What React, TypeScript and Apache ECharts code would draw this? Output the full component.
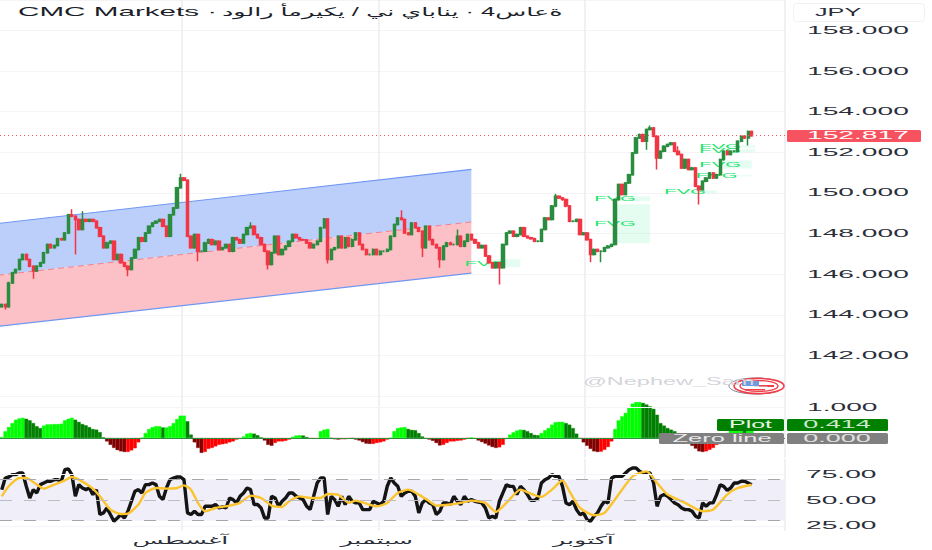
import React, { useEffect, useRef } from "react";
import * as echarts from "echarts";

const titleLatin = "CMC Markets ·";
const titleArabic = "\u202Dدولار أمريكي / ين ياباني · 4ساعة";
const currency = "JPY";
const watermark = "@Nephew_Sam_";
const priceTicks = [158, 156, 154, 152, 150, 148, 146, 144, 142];
const oscTicks = [1];
const rsiTicks = [75, 50, 25];
const monthNames = ["آغسطس", "سبتمبر", "آكتوبر"];
const monthIndex = [51, 107, 166];
const gridIndex = [52, 108, 167];
const slotCount = 224;
const lastPrice = 152.817;
const plotValue = 0.414;

const closes = [
  144.5, 144.4, 145.57, 146.07, 146.23, 146.72, 146.97, 146.72, 146.39, 146.15, 146.39, 146.56, 147.05, 147.46, 147.3, 147.41,
  147.74, 147.7, 148.03, 148.93, 148.85, 148.69, 148.2, 148.69, 148.61, 148.69, 148.61, 148.28, 147.87, 147.3, 147.54, 147.62,
  146.72, 146.97, 146.56, 146.39, 146.23, 146.8, 147.21, 147.79, 147.62, 148.03, 148.36, 148.52, 148.61, 148.69, 148.36, 147.87,
  148.93, 149.26, 150.25, 150.74, 150.62, 147.87, 147.3, 147.95, 147.13, 147.13, 147.54, 147.7, 147.46, 147.62, 147.21, 147.3,
  147.46, 147.13, 147.79, 147.7, 147.54, 147.95, 148.28, 148.36, 147.95, 147.79, 147.46, 147.13, 146.47, 147.05, 147.87, 146.97,
  147.21, 147.38, 147.62, 147.95, 147.79, 147.7, 147.68, 147.54, 147.3, 147.46, 147.62, 148.28, 148.72, 146.72, 147.21, 147.3,
  147.87, 147.3, 147.79, 147.38, 147.7, 148.03, 147.46, 147.21, 146.97, 146.97, 147.21, 146.97, 147.13, 147.13, 147.21, 147.87,
  148.44, 148.77, 148.69, 148.03, 147.95, 148.52, 148.28, 148.11, 147.3, 148.36, 147.7, 147.46, 147.3, 146.72, 147.38, 147.54,
  147.46, 147.46, 147.87, 147.38, 147.62, 147.95, 147.7, 147.54, 147.3, 147.41, 146.89, 146.56, 146.31, 146.56, 146.31, 147.46,
  148.03, 148.11, 147.87, 147.95, 148.28, 147.87, 147.79, 147.74, 147.62, 147.62, 148.2, 148.77, 148.69, 149.35, 149.84, 149.75,
  149.67, 149.35, 148.61, 148.61, 148.69, 147.95, 148.03, 147.7, 146.97, 147.21, 147.13, 147.13, 147.3, 147.38, 147.46, 149.67,
  150.41, 149.92, 150.49, 150.9, 151.97, 152.7, 152.87, 152.54, 153.12, 153.2, 152.79, 151.72, 152.05, 152.3, 152.38, 152.46,
  152.05, 151.89, 151.23, 151.64, 151.15, 151.23, 150.33, 150.16, 150.57, 150.74, 150.98, 150.74, 150.9, 151.64, 152.05, 151.89,
  152.05, 152.05, 152.54, 152.79, 152.71, 153.03, 152.817,
];
const bigHighs: [number, number][] = [[20, 149.2], [23, 149.1], [51, 150.95], [71, 148.55], [114, 149.15], [130, 148.2], [158, 149.96], [185, 153.32], [193, 152.3]];
const bigLows: [number, number][] = [[1, 144.26], [9, 145.77], [21, 146.97], [36, 145.9], [56, 146.64], [76, 146.23], [93, 146.52], [120, 146.85], [125, 146.31], [142, 145.49], [168, 146.59], [171, 146.59], [184, 152.13], [187, 151.15], [199, 149.43], [213, 152.33]];

const oscValues = [
  0.03, 0.22, 0.35, 0.48, 0.59, 0.63, 0.65, 0.62, 0.57, 0.48, 0.38, 0.32, 0.4, 0.44, 0.44, 0.45, 0.45, 0.46, 0.57, 0.62, 0.65, 0.59, 0.52, 0.45,
  0.41, 0.35, 0.29, 0.27, 0.19, 0.02, -0.11, -0.22, -0.32, -0.39, -0.43, -0.45, -0.45, -0.4, -0.33, -0.14, 0.01, 0.16, 0.29, 0.35, 0.38, 0.38, 0.34, 0.34,
  0.38, 0.48, 0.61, 0.72, 0.72, 0.54, 0.11, -0.14, -0.32, -0.48, -0.45, -0.35, -0.32, -0.27, -0.22, -0.2, -0.18, -0.14, -0.11, -0.05, -0.02, 0.05, 0.14, 0.16,
  0.14, 0.09, 0.02, -0.08, -0.22, -0.25, -0.16, -0.11, -0.11, -0.09, -0.05, 0.04, 0.08, 0.09, 0.08, 0.03, -0.02, -0.02, -0.02, 0.22, 0.27, 0.29, -0.01, -0.04,
  -0.05, -0.04, -0.04, -0.02, -0.01, -0.05, -0.08, -0.13, -0.18, -0.19, -0.19, -0.16, -0.14, -0.11, -0.05, 0.01, 0.22, 0.32, 0.34, 0.35, 0.29, 0.26, 0.25, 0.16,
  0.05, -0.02, -0.05, -0.09, -0.16, -0.24, -0.22, -0.16, -0.11, -0.11, -0.09, -0.08, -0.05, -0.01, 0.02, -0.02, -0.08, -0.13, -0.18, -0.24, -0.29, -0.32, -0.3, -0.22,
  -0.03, 0.11, 0.18, 0.24, 0.27, 0.26, 0.22, 0.16, 0.1, 0.09, 0.16, 0.25, 0.32, 0.43, 0.51, 0.52, 0.52, 0.48, 0.43, 0.32, 0.14, -0.02, -0.14, -0.25,
  -0.35, -0.43, -0.45, -0.44, -0.38, -0.29, -0.11, 0.29, 0.57, 0.7, 0.81, 0.97, 1.11, 1.16, 1.16, 1.13, 1.08, 1.02, 0.94, 0.75, 0.48, 0.4, 0.32, 0.27,
  0.22, 0.14, 0.05, -0.02, -0.16, -0.25, -0.34, -0.43, -0.45, -0.43, -0.38, -0.32, -0.22, -0.05, 0.05, 0.16, 0.24, 0.29, 0.32, 0.33, 0.32, 0.35, 0.414,
];

const rsiLeft = [
  60.2, 71.5, 72.5, 74.8, 74.8, 76.4, 76.4, 63.5, 52.1, 60.2, 57, 65.1, 66.7, 68.3, 68.3, 69.9, 69.9, 68.3, 79.6, 80.3, 74.8, 53.7, 65.1, 61.8,
  60.2, 61.8, 55.4, 60.2, 36, 37.6, 42.4, 36, 29.5, 32.7, 36, 32.7, 39.2, 48.9, 58.6, 60.2, 57, 65.1, 65.1, 66.7, 65.1, 53.7, 50.5, 61.8,
  69.9, 71.5, 72.5, 72.5, 69.9, 37.6, 36, 39.2, 36, 36, 44, 44, 44, 45.7, 42.4, 43.4, 42.4, 52.1, 50.5, 47.3, 53.7, 57, 61.8, 60.2,
  45.7, 45.7, 42.4, 32.7, 32.7, 53.7, 52.1, 44, 48.9, 52.1, 57, 57, 53.7, 52.1, 50.5, 44, 40.8, 53.7, 66.7, 71.5, 71.5, 36, 53.7, 50.5,
  44, 53.7, 45.7, 53.7, 48.9, 47.3, 47.3, 40.8, 40.8, 40.8, 48.9, 47.3, 45.7, 48.9, 63.5, 71.5, 66.7, 63.5, 53.7, 57, 58.6, 58.6, 53.7, 37.6,
  47.3, 50.5, 47.3, 45.7, 36, 39.2, 47.3, 47.3, 45.7, 53.7, 48.9, 45.7, 53.7, 48.9,
];
const rsiRight = [
  50.5, 48.9, 48.2, 47.3, 42.4, 32.7, 34.3, 32.7, 48.9, 57, 65, 63.4, 63.4, 55.4, 63.4, 60.2, 55.4, 49.8, 49.8, 52.1, 66.7, 69.9, 71.5, 74.8, 73.1, 73.1,
  63.4, 47.3, 45.6, 48.9, 40.8, 35.9, 37.6, 31.1, 29.5, 34.3, 37.6, 44, 48.9, 47.3, 71.5, 73.1, 73.1, 73.1, 76.4, 79.6, 81.2, 81.2, 78, 76.4, 76.4, 76.4,
  66.7, 44, 53.7, 55.4, 53.7, 50.5, 47.3, 45.6, 42.4, 40.8, 40.8, 39.2, 34.3, 32.7, 47.3, 44, 47.3, 47.3, 55.4, 65, 63.4, 59.5, 61.8, 66.7, 66.7, 68.3, 68.3, 66.7, 65,
];
const maIndex = [0, 2, 5, 7, 10, 12, 15, 18, 20, 22, 26, 28, 31, 34, 36, 39, 41, 44, 47, 50, 52, 54, 56, 58, 61, 65, 68, 71, 74, 77, 80, 82, 85, 88, 91, 93, 96, 99, 101, 104, 107, 110, 113, 116, 119, 122, 124, 128, 131, 134, 138, 141, 144, 148, 151, 154, 157, 160, 162, 165, 169, 172, 176, 180, 184, 187, 190, 195, 200, 203, 207, 210, 214];
const maValues = [53.7, 63.5, 71.5, 71.5, 65.1, 61.2, 65.1, 69.3, 72.5, 69.9, 61.2, 53.7, 40.8, 36.6, 36.9, 45.7, 57, 61.8, 61.2, 61.8, 64.4, 60.2, 47.3, 39.2, 42.4, 44.7, 47.3, 54.4, 52.1, 44.7, 43.4, 48.9, 53.7, 52.1, 52.1, 56, 55.4, 47.3, 49.5, 46.6, 44, 47.3, 57, 60.2, 55.4, 48.9, 44.7, 45.7, 47.3, 49.5, 47.3, 38.5, 47.3, 60.2, 56.3, 53.1, 60.2, 69.3, 58.6, 42.4, 35.3, 37.6, 55.4, 73.1, 78, 66.7, 55.4, 47.3, 39.2, 40.8, 55.4, 61.8, 65];

// channel: [left index, right index, left price, right price]
const channelEnds = [-1, 134];
const channelUpper = [148.5, 151.16];
const channelMiddle = [145.95, 148.57];
const channelLower = [143.43, 146.05];
// FVG: [start index, end index, top price, bottom price]
const fvgZones = [
  [138, 148, 146.74, 146.34],
  [175, 185, 149.83, 149.6],
  [175, 185, 149.44, 147.52],
  [195, 204, 150.13, 149.98],
  [204, 214, 150.87, 150.82],
  [205, 214, 151.6, 151.21],
  [205, 215, 152.34, 152.24],
  [205, 215, 152.15, 152.0],
];

const UP = "#2a8c3f";
const DOWN = "#f23645";
const FONT = "'Liberation Sans', 'DejaVu Sans', sans-serif";

export default function App() {
  const ref = useRef<HTMLDivElement>(null);
  useEffect(() => {
    if (!ref.current) return;
    const chart = echarts.init(ref.current, undefined, { renderer: "svg", width: 932, height: 550 });
    const categories = Array.from({ length: slotCount }, (_, i) => String(i));
    const highMap = new Map(bigHighs);
    const lowMap = new Map(bigLows);
    const candles = closes.map((c, i) => {
      const o = i === 0 ? c - 0.1 : closes[i - 1];
      const hi = highMap.get(i) ?? Math.max(o, c) + 0.05;
      const lo = lowMap.get(i) ?? Math.min(o, c) - 0.05;
      return [o, c, lo, hi];
    });
    const bars = oscValues.map((v, i) => {
      const prev = i === 0 ? 0 : oscValues[i - 1];
      const rising = v >= prev;
      const color = v >= 0 ? (rising ? "#00ff00" : "#008000") : rising ? "#ff0000" : "#800000";
      return { value: v, itemStyle: { color, borderColor: color, borderWidth: 0.4 } };
    });
    const rsi = rsiLeft.concat(rsiRight);
    const ma = maIndex.map((x, i) => [x, maValues[i]]);
    const gridLine = { show: true, lineStyle: { color: "#eeeef2", width: 1.6 }, interval: (i: number) => gridIndex.includes(i) };
    const xBase = (gridI: number) => ({
      type: "category" as const,
      gridIndex: gridI,
      data: categories,
      axisLine: { show: false },
      axisTick: { show: false },
      axisLabel: { show: false },
      splitLine: gridLine,
    });
    const band = (a: number[], b: number[], fill: string) => (_p: any, api: any) => {
      const p0 = api.coord([channelEnds[0], a[0]]);
      const p1 = api.coord([channelEnds[1], a[1]]);
      const p2 = api.coord([channelEnds[1], b[1]]);
      const p3 = api.coord([channelEnds[0], b[0]]);
      return { type: "polygon", shape: { points: [p0, p1, p2, p3] }, style: { fill } };
    };
    const edge = (a: number[], stroke: string, dash?: number[], width = 1.1) => (_p: any, api: any) => {
      const p0 = api.coord([channelEnds[0], a[0]]);
      const p1 = api.coord([channelEnds[1], a[1]]);
      return { type: "line", shape: { x1: p0[0], y1: p0[1], x2: p1[0], y2: p1[1] }, style: { stroke, lineWidth: width, lineDash: dash, fill: "none" } };
    };
    const customBase = { type: "custom" as const, xAxisIndex: 0, yAxisIndex: 0, silent: true, clip: true, data: [[0, 148]] };
    const fvgRender = (p: any, api: any) => {
      const z = fvgZones[p.dataIndex];
      const a = api.coord([z[0], z[2]]);
      const b = api.coord([z[1], z[3]]);
      return {
        type: "group",
        children: [
          { type: "rect", shape: { x: a[0], y: a[1], width: b[0] - a[0], height: b[1] - a[1] }, style: { fill: "rgba(0,230,118,0.1)" } },
          {
            type: "text",
            x: a[0],
            y: (a[1] + b[1]) / 2,
            scaleX: 2.9,
            style: { text: "FVG", fontSize: 7, fontFamily: FONT, fill: "#22e36b", align: "center", verticalAlign: "middle" },
          },
        ],
      };
    };
    const hLine = (v: number, color: string, type: any = "solid", width = 1) => ({ yAxis: v, lineStyle: { color, type, width } });
    chart.setOption({
      animation: false,
      backgroundColor: "#ffffff",
      textStyle: { fontFamily: FONT },
      grid: [
        { left: 0, width: 785, top: 0, height: 396 },
        { left: 0, width: 785, top: 395, height: 63 },
        { left: 0, width: 785, top: 459, height: 72 },
      ],
      xAxis: [xBase(0), xBase(1), xBase(2)],
      yAxis: [
        {
          type: "value", gridIndex: 0, min: 140, max: 159.5, interval: 2, position: "right",
          axisLine: { show: false }, axisTick: { show: false }, axisLabel: { show: false },
          splitLine: { show: true, lineStyle: { color: "#f4f4f6", width: 1 } },
        },
        { type: "value", gridIndex: 1, min: -0.645, max: 1.387, position: "right", axisLine: { show: false }, axisTick: { show: false }, axisLabel: { show: false }, splitLine: { show: false } },
        { type: "value", gridIndex: 2, min: 20, max: 90, position: "right", axisLine: { show: false }, axisTick: { show: false }, axisLabel: { show: false }, splitLine: { show: false } },
      ],
      series: [
        { ...customBase, z: 1, renderItem: band(channelUpper, channelMiddle, "#bccffb") },
        { ...customBase, z: 1, renderItem: band(channelMiddle, channelLower, "#fcc1c6") },
        { ...customBase, z: 2, renderItem: edge(channelUpper, "#6f97f2") },
        { ...customBase, z: 2, renderItem: edge(channelLower, "#6f97f2") },
        { ...customBase, z: 2, renderItem: edge(channelMiddle, "#f5808a", [6, 4], 1) },
        { ...customBase, z: 3, data: fvgZones.map((z) => [z[0], z[2]]), renderItem: fvgRender },
        {
          type: "candlestick", xAxisIndex: 0, yAxisIndex: 0, z: 4, data: candles, barWidth: 2.8, silent: true,
          itemStyle: { color: UP, color0: DOWN, borderColor: UP, borderColor0: DOWN, borderWidth: 1.5 },
          markLine: {
            silent: true, symbol: "none", label: { show: false }, animation: false,
            data: [{ yAxis: lastPrice, lineStyle: { color: "#f7525f", type: [1, 3], width: 1 } }],
          },
        },
        {
          type: "bar", xAxisIndex: 1, yAxisIndex: 1, data: bars, barWidth: 3.6, silent: true,
          markLine: {
            silent: true, symbol: "none", label: { show: false },
            data: [hLine(1.387, "#eeeef2", "solid", 1.5), hLine(1, "#f4f4f6"), hLine(0, "#2d8f3c"), hLine(-0.645, "#eeeef2", "solid", 1.5)],
          },
        },
        {
          type: "line", xAxisIndex: 2, yAxisIndex: 2, data: rsi, symbol: "none", silent: true, z: 3,
          lineStyle: { color: "#141414", width: 3.4 },
          markArea: {
            silent: true, itemStyle: { color: "#f0eef9" }, label: { show: false },
            data: [[{ yAxis: 70 }, { yAxis: 30 }]],
          },
          markLine: {
            silent: true, symbol: "none", label: { show: false },
            data: [hLine(75, "#f4f4f6"), hLine(25, "#f4f4f6"), hLine(70, "#a8a8ac", [12, 12]), hLine(50, "#bdbdc2", [12, 12]), hLine(30, "#a8a8ac", [12, 12])],
          },
        },
        {
          type: "line", xAxisIndex: 2, yAxisIndex: 2, data: ma, symbol: "none", smooth: 0.2, silent: true, z: 4,
          lineStyle: { color: "#fbc42d", width: 2.4 },
        },
      ],
    });

    const yOf = (axis: number, v: number) => chart.convertToPixel({ yAxisIndex: axis }, v) as number;
    const xOf = (i: number) => chart.convertToPixel({ xAxisIndex: 2 }, i) as number;
    const label = (text: string, x: number, y: number, fill: string, fontSize: number, scaleX: number, align = "left") => ({
      type: "text", x, y, scaleX, z: 20,
      style: { text, fontSize, fontFamily: FONT, fill, align, verticalAlign: "middle" },
    });
    const box = (x: number, y: number, width: number, height: number, fill: string, r = 1.5, stroke?: string) => ({
      type: "rect", z: 15, shape: { x, y, width, height, r }, style: { fill, stroke },
    });
    const AX = "#2a2e39";
    const graphics: any[] = [
      label(titleLatin, 18, 12, "#1b1f2a", 12, 2.47),
      label(titleArabic, 222, 12, "#1b1f2a", 12, 2.12),
      box(793.5, 3.5, 131, 18, "#ffffff", 3, "#f0f1f5"),
      label(currency, 815, 12, AX, 10.5, 2.4),
      ...priceTicks.map((t) => label(t.toFixed(3), 807, yOf(0, t), AX, 10, 2.82)),
      box(787, 130, 134, 12, "#f7525f"),
      label(lastPrice.toFixed(3), 807, yOf(0, lastPrice), "#ffffff", 10, 2.82),
      ...oscTicks.map((t) => label(t.toFixed(3), 807, yOf(1, t), AX, 10, 2.82)),
      box(717, 419, 67, 12, "#008000"),
      box(787, 419, 101, 12, "#008000"),
      label("Plot", 750.5, 425, "#e8f5e8", 10, 2.5, "center"),
      label(plotValue.toFixed(3), 837, 425, "#cfe8cf", 10, 2.7, "center"),
      box(659, 433, 125, 11, "#808080"),
      box(787, 433, 101, 11, "#808080"),
      label("Zero line", 722, 438.5, "#e8e8e8", 10, 2.55, "center"),
      label((0).toFixed(3), 837, 438.5, "#e0e0e0", 10, 2.7, "center"),
      ...rsiTicks.map((t) => label(t.toFixed(2), 806, yOf(2, t), AX, 10, 2.82)),
      ...monthNames.map((m, i) => label(m, xOf(monthIndex[i]), 540, AX, 11, 2.3, "center")),
      label(watermark, 583, 382, "#d4d4da", 10, 2.35),
      { type: "ellipse", z: 16, shape: { cx: 756, cy: 386, rx: 27, ry: 8 }, style: { fill: "#ffffff", stroke: "#7a7f8c", lineWidth: 1 } },
      { type: "ellipse", z: 17, shape: { cx: 759, cy: 386, rx: 25, ry: 7.6 }, style: { fill: "#ffffff", stroke: "#ef3f4b", lineWidth: 1.6 } },
      { type: "ellipse", z: 17, shape: { cx: 759, cy: 386, rx: 19, ry: 5.4 }, style: { fill: "#ffffff", stroke: "#ef3f4b", lineWidth: 1.4 } },
      { type: "rect", z: 18, shape: { x: 742, y: 381, width: 17, height: 5 }, style: { fill: "#6f9be0" } },
      { type: "rect", z: 18, shape: { x: 759, y: 385, width: 15, height: 2 }, style: { fill: "#ef3f4b" } },
      { type: "rect", z: 18, shape: { x: 745, y: 389, width: 20, height: 1.4 }, style: { fill: "#ef3f4b" } },
    ];
    chart.setOption({ graphic: graphics });
    return () => chart.dispose();
  }, []);
  return <div ref={ref} style={{ position: "fixed", left: 0, top: 0, width: 932, height: 550 }} />;
}
